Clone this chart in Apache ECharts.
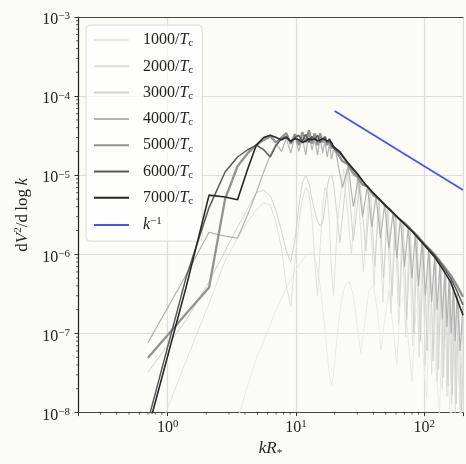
<!DOCTYPE html>
<html><head><meta charset="utf-8">
<script src="https://cdn.jsdelivr.net/npm/echarts@6/dist/echarts.min.js"></script>
<style>html,body{margin:0;padding:0;background:#fcfcf6}#c{width:466px;height:464px}</style>
</head><body><div id="c"></div>
<script>
// ---- data ----
const kLow = [0.7,1.4,2.1,2.8,3.5,4.2,4.9,5.6,6.3,7.0,7.7,8.4,9.1,9.8,10.5,11.2,11.9,12.6,13.3,14.0,14.7,15.4,16.1,16.8,17.5,18.2,18.9,19.6];

const v1000Low = [1e-11,1e-10,8e-10,3e-9,8e-9,2.2e-8,4.8e-8,8e-8,1.3e-7,2e-7,2.8e-7,3.7e-7,4.8e-7,6e-7,7.2e-7,8.5e-7,9.5e-7,1.05e-6,1.07e-6,9e-7,6.5e-7,4e-7,2.2e-7,1.1e-7,5.5e-8,3e-8,2.2e-8,3e-8];
const k1000Tail = [21,22.5,24,26,28,30,32,34,37,40,43,46,49,53,57,61,65,70,75,80,86,92,98,104,110,117,124,131,138,146,154,162,170,180,190,200];
const v1000Tail = [1e-7,2.5e-7,4e-7,4.5e-7,3e-7,1.2e-7,5.7e-8,1.2e-7,3.5e-7,4e-7,2e-7,6e-8,1.5e-7,3.5e-7,1.2e-7,4e-8,2.5e-7,3e-7,8e-8,2.5e-8,2e-7,2.2e-7,5e-8,1.5e-8,1.6e-7,1.7e-7,3e-8,1e-8,1.2e-7,1.1e-7,2e-8,7e-9,8e-8,7e-8,1e-8,5e-9];

const v2000Low = [2.6e-9,4.6e-8,2.4e-7,8.3e-7,1.6e-6,2.6e-6,3.6e-6,4.5e-6,4.2e-6,2.5e-6,1.2e-6,4e-7,2.2e-7,8e-7,2.5e-6,5e-6,7e-6,6e-6,3e-6,8e-7,3e-7,1.2e-6,4e-6,7e-6,6e-6,2.5e-6,6e-7,3e-7];
const k2000Tail = [21,23.5,27,30,33.5,37,40.5,44,47.5,51,55,59,63,67,71.5,76,81,86,91,96,102,108,114,120,126,132,138,144,150,156,162,168,174,182,190,200];
const v2000Tail = [2.5e-6,1.2e-5,1e-6,9e-6,6e-7,6.8e-6,4e-7,5e-6,2.5e-7,4e-6,1.8e-7,3.2e-6,1.3e-7,2.6e-6,9e-8,2.1e-6,7e-8,1.7e-6,5e-8,1.4e-6,4e-8,1.1e-6,3e-8,8.8e-7,2.5e-8,7.2e-7,2e-8,5.8e-7,1.6e-8,4.6e-7,1.3e-8,3.7e-7,1e-8,2.8e-7,8e-9,1.8e-7];

const v3000Low = [3.2e-8,1.5e-7,4.5e-7,1.1e-6,2.2e-6,3.8e-6,6e-6,6.5e-6,5.5e-6,3.5e-6,2e-6,1.1e-6,8e-7,1.5e-6,4e-6,8e-6,1.0e-5,8e-6,5e-6,3.5e-6,2.6e-6,2.3e-6,2.5e-6,4e-6,7e-6,9.5e-6,1.0e-5,8e-6];
const k3000Tail = [22,25,28,31.5,35,38,41,44.5,48,52,56,60,64,68.5,73,78,83,88,93,99,105,111,117,123,129,135,141,147,153,159,165,171,177,185,195,205];
const v3000Tail = [1.4e-6,1.2e-5,1.5e-6,8.5e-6,1.1e-6,6.5e-6,7e-7,5e-6,5e-7,3.9e-6,3e-7,3.1e-6,2.2e-7,2.5e-6,1.5e-7,2.05e-6,1e-7,1.65e-6,8e-8,1.35e-6,6e-8,1.05e-6,4.5e-8,8.5e-7,3.5e-8,6.8e-7,2.8e-8,5.5e-7,2.2e-8,4.4e-7,1.7e-8,3.5e-7,1.3e-8,2.6e-7,1e-8,1.5e-7];

const v4000Low = [7.6e-8,5.6e-7,1.9e-6,1.7e-6,1.6e-6,3.2e-6,6e-6,1.1e-5,1.8e-5,2.5e-5,2.0e-5,2.9e-5,1.9e-5,3.2e-5,2.0e-5,3.0e-5,1.8e-5,3.4e-5,2.1e-5,2.8e-5,1.8e-5,3.0e-5,1.9e-5,2.7e-5,1.7e-5,2.5e-5,1.6e-5,2.1e-5];
const k4000Tail = [20.5,23,25.5,28,30.5,33,36,39,42,45.5,49,53,57,61,65,70,75,80,85,90,96,102,108,114,120,126,132,138,144,150,156,162,168,174,180,190,200];
const v4000Tail = [1.9e-5,7e-6,1.3e-5,4e-6,9e-6,3e-6,7.3e-6,2.2e-6,5.5e-6,1.6e-6,4.3e-6,1.2e-6,3.4e-6,9e-7,2.8e-6,7e-7,2.2e-6,5e-7,1.8e-6,4e-7,1.45e-6,3e-7,1.15e-6,2.5e-7,9e-7,2e-7,7.6e-7,1.5e-7,6e-7,1.2e-7,4.8e-7,1e-7,3.9e-7,8e-8,3.2e-7,6e-8,2.2e-7];

const v5000Low = [4.9e-8,1.8e-7,3.8e-7,5e-6,1.3e-5,1.9e-5,2.4e-5,2.8e-5,3.1e-5,2.6e-5,3.0e-5,3.4e-5,2.5e-5,3.3e-5,2.4e-5,3.5e-5,2.6e-5,3.7e-5,2.5e-5,3.4e-5,2.4e-5,3.4e-5,2.6e-5,3.1e-5,2.4e-5,2.9e-5,2.2e-5,2.3e-5];
const k5000Tail = [21,23,25,28,30,33,36,40,45,50,55,60,70,80,90,100,120,140,160,180,200];
const v5000Tail = [1.9e-5,1.5e-5,1.4e-5,1.05e-5,9.5e-6,7.6e-6,7.2e-6,5.6e-6,4.9e-6,4.1e-6,3.6e-6,3.0e-6,2.5e-6,2.0e-6,1.65e-6,1.35e-6,1.0e-6,7.3e-7,5.5e-7,4.0e-7,2.9e-7];

const v6000Low = [7.7e-9,5.3e-7,3.9e-6,1.1e-5,1.7e-5,2.1e-5,2.4e-5,2.1e-5,1.7e-5,2.4e-5,2.9e-5,3.1e-5,2.6e-5,3.0e-5,3.2e-5,2.7e-5,3.3e-5,2.6e-5,3.1e-5,2.8e-5,3.2e-5,2.6e-5,2.9e-5,3.0e-5,2.6e-5,2.7e-5,2.4e-5,2.2e-5];
const k6000Tail = [22,25,30,35,40,50,60,70,80,100,120,140,160,180,200];
const v6000Tail = [1.9e-5,1.45e-5,1.02e-5,7.6e-6,5.9e-6,4.1e-6,3.1e-6,2.45e-6,2.0e-6,1.35e-6,9.8e-7,7.0e-7,5.0e-7,3.4e-7,2.3e-7];

const v7000Low = [6e-9,4e-7,5.6e-6,5.3e-6,4.9e-6,1.2e-5,2.4e-5,3.0e-5,3.2e-5,3.0e-5,2.8e-5,3.0e-5,2.7e-5,2.9e-5,2.8e-5,2.6e-5,2.7e-5,2.9e-5,2.8e-5,2.9e-5,2.7e-5,2.8e-5,2.9e-5,2.8e-5,2.7e-5,2.8e-5,2.6e-5,2.3e-5];
const k7000Tail = [22,25,30,35,40,50,60,70,80,100,120,140,160,180,200];
const v7000Tail = [1.97e-5,1.48e-5,1.05e-5,7.5e-6,6e-6,4.1e-6,3.1e-6,2.4e-6,1.96e-6,1.3e-6,9.3e-7,6.4e-7,4.5e-7,2.7e-7,1.7e-7];

const kLine = [20, 200];
const vLine = [6.5e-5, 6.5e-6];

const seriesNames = ['1000/Tc','2000/Tc','3000/Tc','4000/Tc','5000/Tc','6000/Tc','7000/Tc','k^-1'];
const xTickLabels = ['10^0','10^1','10^2'];
const yTickLabels = ['10^-8','10^-7','10^-6','10^-5','10^-4','10^-3'];

// ---- build ----
function pairs(ks, vs){ return ks.map((k,i)=>[k, vs[i]]); }
function joined(lowV, kt, vt){ return pairs(kLow, lowV).concat(pairs(kt, vt)); }

const styles = [
  {c:'#e9e9e9', w:1},
  {c:'#dfdfdf', w:1},
  {c:'#d2d2d2', w:1},
  {c:'#b2b2b2', w:1.2},
  {c:'#929292', w:2.3},
  {c:'#5a5a5a', w:1.5},
  {c:'#262626', w:1.6},
  {c:'#4f4ff0', w:1.8}
];
const dataSets = [
  joined(v1000Low, k1000Tail, v1000Tail),
  joined(v2000Low, k2000Tail, v2000Tail),
  joined(v3000Low, k3000Tail, v3000Tail),
  joined(v4000Low, k4000Tail, v4000Tail),
  joined(v5000Low, k5000Tail, v5000Tail),
  joined(v6000Low, k6000Tail, v6000Tail),
  joined(v7000Low, k7000Tail, v7000Tail),
  pairs(kLine, vLine)
];

const FONT = 'Liberation Serif';
const series = seriesNames.map((n,i)=>({
  name: n, type: 'line', data: dataSets[i], symbol: 'none', showSymbol: false,
  lineStyle: {color: styles[i].c, width: styles[i].w}, itemStyle: {color: styles[i].c},
  z: 2 + i, silent: true, animation: false
}));

// minor ticks (matplotlib style 2..9 x 10^n)
const minor = [];
for (let d = -1; d <= 2; d++) for (let m = 2; m <= 9; m++) {
  const v = m * Math.pow(10, d);
  if (v > 0.2 && v < 200) minor.push([v, 1e-8, 0]);
}
for (let d = -8; d <= -4; d++) for (let m = 2; m <= 9; m++) minor.push([0.2, m * Math.pow(10, d), 1]);
series.push({
  type: 'custom', name: '_minor', data: minor, silent: true, clip: false, z: 20,
  renderItem: function(params, api){
    const p = api.coord([api.value(0), api.value(1)]);
    const o = api.value(2);
    return {type:'line', shape: o === 0 ? {x1:p[0], y1:p[1], x2:p[0], y2:p[1]+2} : {x1:p[0], y1:p[1], x2:p[0]-2, y2:p[1]},
      style:{stroke:'#333', lineWidth:0.8}};
  }
});

function powLabel(labels){
  return function(value){
    const e = Math.log10(value);
    const r = Math.round(e);
    if (Math.abs(e - r) > 1e-6) return '';
    const lab = labels.find(s => s === '10^' + r);
    if (!lab) return '';
    const ex = lab.split('^')[1].replace('-', '\u2212');
    return '{b|10}{s|' + ex + '}';
  };
}
const tickRich = {
  b: {fontFamily: FONT, fontSize: 16, lineHeight: 18, color: '#222'},
  s: {fontFamily: FONT, fontSize: 11, lineHeight: 11, verticalAlign: 'top', color: '#222'}
};

const chart = echarts.init(document.getElementById('c'), null, {renderer: 'canvas'});
chart.setOption({
  animation: false,
  backgroundColor: '#fcfcf6',
  grid: {left: 78, top: 17, width: 394.5, height: 404, containLabel: false},
  legend: {
    data: seriesNames, orient: 'vertical', left: 86, top: 25,
    padding: [7, 9, 8, 7], itemGap: 9.3, itemWidth: 35, itemHeight: 14,
    backgroundColor: 'rgba(255,255,255,0.75)', borderColor: '#dadada', borderWidth: 1, borderRadius: 4,
    selectedMode: false,
    itemStyle: {opacity: 0},
    formatter: function(name){
      if (name === 'k^-1') return '{i|k}{sup|\u22121}';
      return '{r|' + name.split('/')[0] + '/}{i|T}{sub|c}';
    },
    textStyle: {
      padding: [0, 0, 0, 9],
      rich: {
        r: {fontFamily: FONT, fontSize: 16, lineHeight: 18, color: '#222'},
        i: {fontFamily: FONT, fontSize: 16, fontStyle: 'italic', lineHeight: 18, color: '#222'},
        sub: {fontFamily: FONT, fontSize: 11, lineHeight: 11, verticalAlign: 'bottom', color: '#222'},
        sup: {fontFamily: FONT, fontSize: 11, lineHeight: 11, verticalAlign: 'top', color: '#222'}
      }
    }
  },
  xAxis: [{
    type: 'log', logBase: 10, min: 0.2, max: 200, position: 'bottom',
    name: '{i|kR}{sub|*}', nameLocation: 'middle', nameGap: 22,
    nameTextStyle: {rich: {
      i: {fontFamily: FONT, fontSize: 17, fontStyle: 'italic', color: '#222', lineHeight: 20},
      sub: {fontFamily: FONT, fontSize: 11, color: '#222', lineHeight: 12, verticalAlign: 'bottom'}
    }},
    axisLine: {lineStyle: {color: '#444', width: 1.2}},
    axisTick: {show: true, length: 3.5, lineStyle: {color: '#333'}},
    axisLabel: {formatter: powLabel(xTickLabels), margin: 6, rich: tickRich, showMinLabel: true, showMaxLabel: true},
    splitLine: {show: true, lineStyle: {color: '#dcdcdc', width: 1.2}},
    minorTick: {show: false}
  }, {
    type: 'log', logBase: 10, min: 0.2, max: 200, position: 'top',
    axisLine: {show: true, lineStyle: {color: '#444', width: 1.2}},
    axisTick: {show: false}, axisLabel: {show: false}, splitLine: {show: false}
  }],
  yAxis: [{
    type: 'log', logBase: 10, min: 1e-8, max: 1e-3, position: 'left',
    name: '{r|d}{i|V}{sup|2}{r|/d\u2009log\u2009}{i|k}', nameLocation: 'middle', nameGap: 45, nameRotate: 90,
    nameTextStyle: {rich: {
      r: {fontFamily: FONT, fontSize: 17, color: '#222', lineHeight: 20},
      i: {fontFamily: FONT, fontSize: 17, fontStyle: 'italic', color: '#222', lineHeight: 20},
      sup: {fontFamily: FONT, fontSize: 11, color: '#222', lineHeight: 12, verticalAlign: 'top'}
    }},
    axisLine: {show: true, lineStyle: {color: '#222', width: 1.2}},
    axisTick: {show: true, length: 3.5, lineStyle: {color: '#333'}},
    axisLabel: {formatter: powLabel(yTickLabels), margin: 8, rich: tickRich, padding: [6, 0, 0, 0]},
    splitLine: {show: true, lineStyle: {color: '#dcdcdc', width: 1.2}}
  }],
  series: series
});
</script>
</body></html>
